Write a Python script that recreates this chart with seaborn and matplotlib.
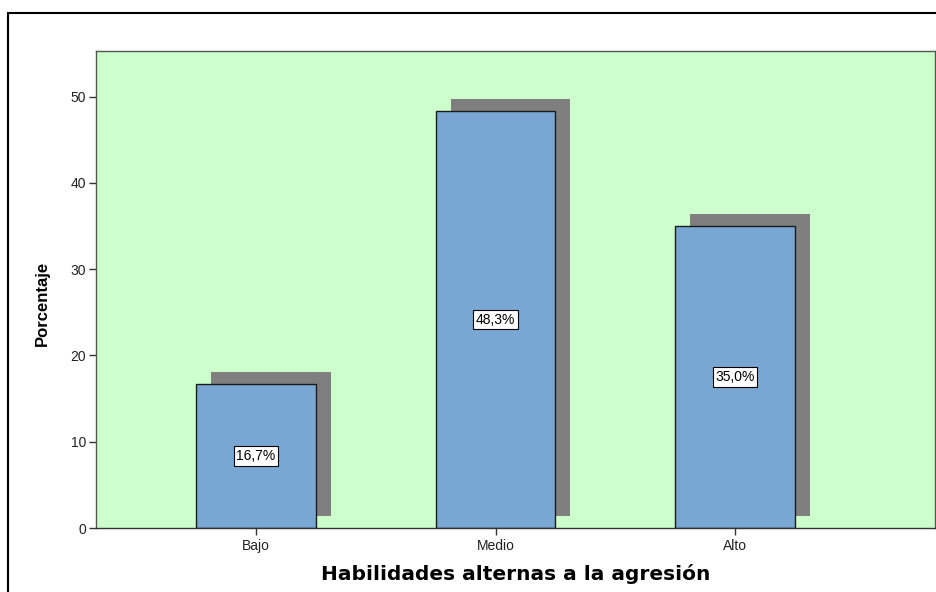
import pandas as pd
import matplotlib.pyplot as plt
import matplotlib.patheffects as pe
from matplotlib.patches import Rectangle
from matplotlib import font_manager
import seaborn as sns

# datos
categorias = ["Bajo", "Medio", "Alto"]
porcentajes = [16.7, 48.3, 35.0]
etiquetas = ["16,7%", "48,3%", "35,0%"]
yticks = [0, 10, 20, 30, 40, 50]

df = pd.DataFrame({"nivel": categorias, "pct": porcentajes})

sns.set_theme(style="white")
plt.rcParams["font.family"] = ["Liberation Sans", "DejaVu Sans"]

# fuente estrecha para el eje Y si existe
nombres = {f.name for f in font_manager.fontManager.ttflist}
fuente_y = "Liberation Sans Narrow" if "Liberation Sans Narrow" in nombres else "Liberation Sans"

fig = plt.figure(figsize=(9.36, 5.92), dpi=100)
ax = fig.add_axes([96 / 936, 1 - 528 / 592, (935 - 96) / 936, (528 - 51) / 592])
ax.set_facecolor("#ccffcc")

sns.barplot(data=df, x="nivel", y="pct", order=categorias, color="#79a7d3",
            saturation=1, width=0.5, edgecolor="#1a1a1a", linewidth=1.0, ax=ax)

# sombra estilo SPSS
sombra = [pe.SimplePatchShadow(offset=(10.8, 8.7), shadow_rgbFace="#7f7f7f", alpha=1.0),
          pe.Normal()]
for barra in ax.patches:
    barra.set_path_effects(sombra)

# etiquetas de porcentaje en el centro de cada barra
for i, (v, txt) in enumerate(zip(porcentajes, etiquetas)):
    ax.text(i, v / 2, txt, ha="center", va="center", fontsize=10, color="black",
            bbox=dict(boxstyle="square,pad=0.2", fc="white", ec="black", lw=0.8))

ax.set_xlim(-0.668, 2.835)
ax.set_ylim(0, 55.3)
ax.set_yticks(yticks)
ax.tick_params(axis="both", length=5, width=1, color="#333333", labelsize=10,
               labelcolor="#222222", pad=2, direction="out")
ax.tick_params(axis="x", bottom=True, pad=3)
ax.tick_params(axis="y", left=True)

for lado in ["left", "top", "right", "bottom"]:
    ax.spines[lado].set_visible(True)
    ax.spines[lado].set_color("#555555")
    ax.spines[lado].set_linewidth(1.0)
ax.spines["bottom"].set_color("#333333")

ax.set_xlabel("Habilidades alternas a la agresión", fontsize=14.5, fontweight="bold",
              family=["DejaVu Sans"], labelpad=8, color="black")
ax.set_ylabel("Porcentaje", fontsize=12, fontweight="bold", family=[fuente_y, "DejaVu Sans"],
              color="black")
ax.yaxis.set_label_coords(-0.055, 0.47)

# marco exterior
fig.patches.append(Rectangle((8 / 936, -0.1), 1.2, 1 - 13 / 592 + 0.1,
                             transform=fig.transFigure, fill=False, ec="black", lw=1.5))

fig.savefig("out.png", dpi=100)
